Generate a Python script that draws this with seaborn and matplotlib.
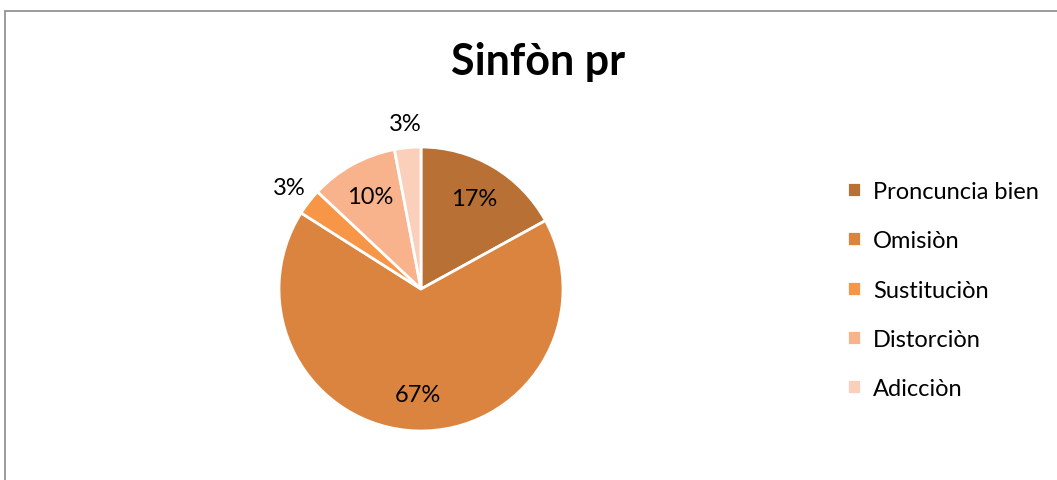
import seaborn as sns
import matplotlib.pyplot as plt
import numpy as np
from matplotlib.patches import Rectangle

sns.set_style("white")
plt.rcParams['font.family'] = ['Lato', 'DejaVu Sans']
plt.rcParams['text.color'] = 'black'

# data
categories = ["Proncuncia bien", "Omisiòn", "Sustituciòn", "Distorciòn", "Adicciòn"]
values = [17, 67, 3, 10, 3]
colors = ["#B87035", "#DA843F", "#F79646", "#F8B38C", "#FAD0BB"]
palette = sns.color_palette(colors)

fig = plt.figure(figsize=(10.57, 4.81), dpi=100)

# outer chart border
fig.patches.append(Rectangle((4.5 / 1057, -0.05), 1.1, 1 - 11.5 / 481 + 0.05,
                             transform=fig.transFigure, fill=False,
                             edgecolor="#8a8a8a", linewidth=1.2))

ax = fig.add_axes([279 / 1057, 49 / 481, 284 / 1057, 284 / 481])
wedges, _ = ax.pie(values, colors=palette, startangle=90, counterclock=False,
                   wedgeprops=dict(edgecolor="white", linewidth=2))
ax.set_xlim(-1.0, 1.0)
ax.set_ylim(-1.0, 1.0)
ax.set_aspect("equal")

# percentage labels: inside for big slices, outside for small ones
total = sum(values)
for w, v in zip(wedges, values):
    ang = np.deg2rad((w.theta1 + w.theta2) / 2)
    pct = round(100 * v / total)
    r = 0.74 if pct >= 5 else 1.17
    ax.text(r * np.cos(ang), r * np.sin(ang), f"{pct}%", ha="center", va="center",
            fontsize=17, color="black", clip_on=False)

fig.text(538 / 1057, 1 - 62 / 481, "Sinfòn pr", ha="center", va="center",
         fontsize=31, fontweight="bold", color="black")

leg = fig.legend(wedges, categories, loc="center left",
                 bbox_to_anchor=(826 / 1057, 1 - 291 / 481),
                 frameon=False, fontsize=17, handlelength=0.6, handleheight=0.6,
                 handletextpad=0.5, labelspacing=1.2)
for t in leg.get_texts():
    t.set_color("black")

plt.savefig("out.png", dpi=100)
plt.close(fig)
